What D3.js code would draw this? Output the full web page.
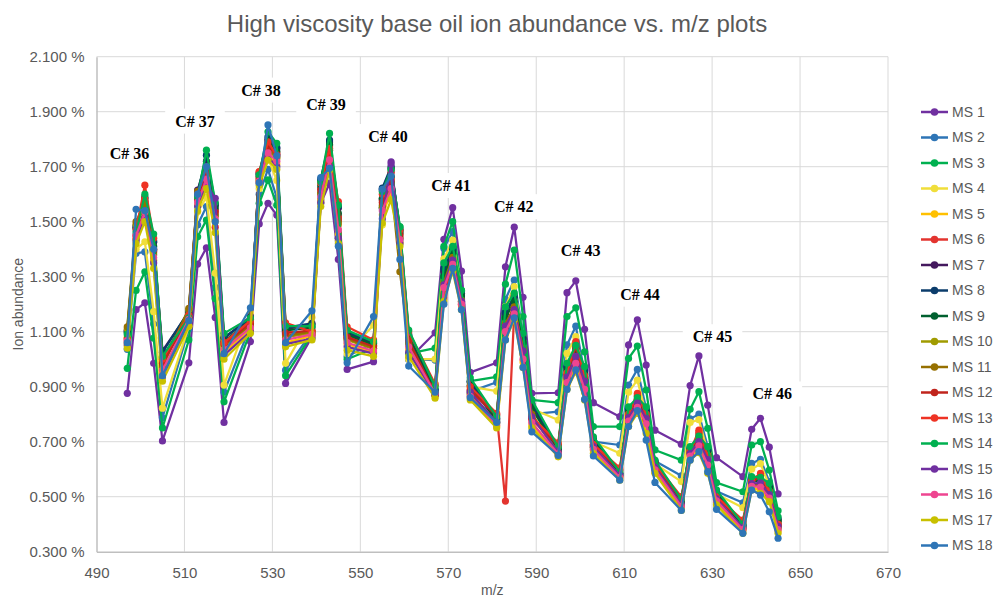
<!DOCTYPE html>
<html>
<head>
<meta charset="utf-8">
<script src="https://cdn.jsdelivr.net/npm/d3@7"></script>
<style>
  body { margin: 0; background: #fff; }
  svg { display: block; font-family: "Liberation Sans", Arial, sans-serif; }
</style>
</head>
<body>
<svg id="chart" width="994" height="600"></svg>
<script>
// m/z of every point (5 per carbon number, C36..C46)
var mzValues = [497, 499, 501, 503, 505, 511, 513, 515, 517, 519, 525, 527, 529, 531, 533,
    539, 541, 543, 545, 547, 553, 555, 557, 559, 561, 567, 569, 571, 573, 575,
    581, 583, 585, 587, 589, 595, 597, 599, 601, 603, 609, 611, 613, 615, 617,
    623, 625, 627, 629, 631, 637, 639, 641, 643, 645];

var xTicks = [490, 510, 530, 550, 570, 590, 610, 630, 650, 670];
var yTicks = [0.3, 0.5, 0.7, 0.9, 1.1, 1.3, 1.5, 1.7, 1.9, 2.1];

var carbonLabels = ['C# 36', 'C# 37', 'C# 38', 'C# 39', 'C# 40', 'C# 41', 'C# 42', 'C# 43', 'C# 44', 'C# 45', 'C# 46'];
var carbonLabelMz = [497.5, 512.4, 527.4, 542.2, 556.3, 570.6, 584.9, 600.1, 613.6, 630.1, 643.7];
var carbonLabelY = [1.748, 1.866, 1.979, 1.928, 1.81, 1.632, 1.555, 1.397, 1.237, 1.082, 0.874];

var seriesNames = ['MS 1', 'MS 2', 'MS 3', 'MS 4', 'MS 5', 'MS 6', 'MS 7', 'MS 8', 'MS 9',
    'MS 10', 'MS 11', 'MS 12', 'MS 13', 'MS 14', 'MS 15', 'MS 16', 'MS 17', 'MS 18'];
var colors = ['#7030A0', '#2E75B6', '#00B050', '#F0DE3A', '#FFC000', '#E3342F', '#44195E', '#0B3C6B', '#00602F',
    '#A09B00', '#967000', '#C0241C', '#EE3324', '#00B050', '#7030A0', '#EE4590', '#C8C000', '#2E75B6'];

// ion abundance (%) per series
var ms1 = [.876, 1.18, 1.205, .985, .703, .987, 1.346, 1.405, 1.152, .77, 1.064, 1.492, 1.567, 1.524, .912,
    1.082, 1.567, 1.64, 1.363, .963, .991, 1.55, 1.718, 1.44, 1.0, 1.096, 1.436, 1.551, 1.32, .952,
    .987, 1.336, 1.48, 1.225, .876, .878, 1.242, 1.285, 1.109, .842, .791, 1.052, 1.143, .979, .742,
    .691, .904, 1.012, .833, .642, .573, .745, .785, .68, .51];
var ms2 = [1.036, 1.385, 1.39, 1.128, .787, 1.11, 1.488, 1.555, 1.261, .88, 1.12, 1.60, 1.69, 1.587, .96,
    1.10, 1.60, 1.70, 1.43, 1.01, 1.06, 1.58, 1.68, 1.43, 1.0, .997, 1.403, 1.464, 1.221, .882,
    .916, 1.218, 1.288, 1.092, .80, .809, 1.052, 1.12, .949, .70, .688, .906, .963, .82, .63,
    .576, .783, .80, .682, .52, .478, .621, .636, .555, .40];
var ms3 = [.967, 1.25, 1.318, 1.077, .75, 1.07, 1.445, 1.506, 1.22, .845, 1.10, 1.567, 1.652, 1.56, .94,
    1.09, 1.58, 1.70, 1.44, 1.0, 1.04, 1.55, 1.69, 1.482, 1.02, 1.04, 1.41, 1.50, 1.25, .92,
    .936, 1.273, 1.397, 1.155, .852, .842, 1.155, 1.187, 1.027, .755, .755, 1.003, 1.048, .888, .67,
    .633, .818, .882, .749, .551, .518, .688, .70, .597, .449];
var ms4 = [1.05, 1.40, 1.427, 1.173, .822, 1.12, 1.536, 1.589, 1.313, .906, 1.169, 1.62, 1.73, 1.65, .985,
    1.152, 1.57, 1.72, 1.433, 1.02, 1.124, 1.488, 1.66, 1.42, 1.0, 1.0, 1.365, 1.433, 1.24, .90,
    .884, 1.191, 1.264, 1.08, .82, .779, 1.021, 1.082, .93, .70, .658, .88, .924, .80, .62,
    .555, .77, .78, .66, .51, .46, .60, .62, .54, .41];
var ms5 = [1.08, 1.435, 1.53, 1.36, .95, 1.14, 1.56, 1.645, 1.50, 1.025, 1.11, 1.645, 1.74, 1.71, 1.06,
    1.085, 1.58, 1.71, 1.455, 1.055, 1.025, 1.525, 1.61, 1.425, 1.035, .865, 1.25, 1.34, 1.195, .86,
    .755, 1.09, 1.16, .99, .76, .65, .905, .975, .88, .668, .566, .765, .815, .75, .59,
    .46, .642, .675, .605, .478, .375, .532, .525, .49, .375];
var ms6 = [1.06, 1.44, 1.55, 1.40, .99, 1.155, 1.585, 1.685, 1.54, 1.06, 1.135, 1.68, 1.78, 1.75, 1.10,
    1.09, 1.62, 1.775, 1.52, 1.085, 1.05, 1.58, 1.66, 1.455, 1.072, .905, 1.22, 1.35, 1.20, .89,
    .80, .484, 1.17, 1.02, .78, .69, .94, 1.055, .93, .685, .60, .79, .87, .79, .612,
    .495, .66, .735, .64, .495, .41, .55, .578, .51, .395];
var ms7 = [1.104, 1.485, 1.575, 1.425, 1.03, 1.17, 1.615, 1.72, 1.56, 1.075, 1.155, 1.672, 1.80, 1.765, 1.11,
    1.125, 1.65, 1.79, 1.55, 1.095, 1.058, 1.615, 1.695, 1.468, 1.085, .888, 1.32, 1.395, 1.24, .915,
    .782, 1.165, 1.225, 1.075, .835, .672, .97, 1.035, .955, .705, .583, .815, .85, .81, .625,
    .482, .675, .71, .665, .515, .395, .565, .56, .535, .415];
var ms8 = [1.10, 1.48, 1.59, 1.43, 1.025, 1.175, 1.605, 1.742, 1.565, 1.08, 1.145, 1.675, 1.809, 1.77, 1.115,
    1.13, 1.655, 1.797, 1.555, 1.10, 1.06, 1.622, 1.70, 1.472, 1.09, .89, 1.33, 1.40, 1.245, .92,
    .785, 1.17, 1.23, 1.08, .84, .675, .975, 1.04, .96, .71, .585, .82, .855, .815, .628,
    .485, .678, .715, .67, .518, .397, .568, .565, .54, .42];
var ms9 = [1.096, 1.475, 1.585, 1.41, 1.005, 1.165, 1.60, 1.69, 1.55, 1.065, 1.14, 1.665, 1.795, 1.755, 1.105,
    1.115, 1.63, 1.78, 1.53, 1.09, 1.052, 1.585, 1.665, 1.46, 1.08, .88, 1.30, 1.385, 1.23, .905,
    .775, 1.15, 1.21, 1.06, .82, .668, .96, 1.02, .945, .70, .58, .81, .845, .80, .62,
    .478, .67, .705, .655, .51, .39, .56, .555, .53, .41];
var ms10 = [1.11, 1.49, 1.56, 1.38, .97, 1.18, 1.60, 1.665, 1.52, 1.04, 1.12, 1.65, 1.76, 1.73, 1.08,
    1.095, 1.60, 1.735, 1.49, 1.07, 1.037, 1.55, 1.635, 1.44, 1.053, .868, 1.27, 1.365, 1.21, .87,
    .765, 1.12, 1.185, 1.035, .795, .658, .925, .995, .905, .678, .572, .78, .83, .775, .60,
    .468, .652, .69, .625, .488, .382, .542, .54, .50, .385];
var ms11 = [1.118, 1.50, 1.57, 1.39, .975, 1.185, 1.61, 1.67, 1.525, 1.05, 1.125, 1.655, 1.765, 1.735, 1.085,
    1.10, 1.605, 1.74, 1.50, 1.075, 1.04, 1.56, 1.64, 1.318, 1.06, .87, 1.28, 1.37, 1.215, .875,
    .77, 1.13, 1.19, 1.04, .80, .66, .93, 1.0, .91, .68, .575, .785, .835, .78, .605,
    .47, .655, .695, .63, .49, .385, .545, .545, .505, .39];
var ms12 = [1.075, 1.45, 1.54, 1.395, .985, 1.15, 1.58, 1.68, 1.535, 1.055, 1.13, 1.66, 1.775, 1.745, 1.095,
    1.105, 1.615, 1.76, 1.51, 1.08, 1.046, 1.57, 1.65, 1.45, 1.068, .875, 1.23, 1.355, 1.205, .885,
    .795, 1.11, 1.175, 1.025, .785, .685, .945, 1.045, .935, .688, .595, .795, .865, .795, .615,
    .49, .662, .728, .645, .50, .405, .555, .572, .515, .398];
var ms13 = [1.07, 1.47, 1.633, 1.44, 1.0, 1.16, 1.60, 1.70, 1.48, 1.06, 1.14, 1.682, 1.79, 1.74, 1.132,
    1.10, 1.64, 1.767, 1.573, 1.118, 1.07, 1.60, 1.68, 1.47, 1.10, .91, 1.24, 1.36, 1.21, .90,
    .803, 1.12, 1.18, 1.03, .79, .696, .95, 1.064, .94, .69, .605, .80, .876, .80, .62,
    .50, .665, .742, .65, .50, .415, .56, .585, .52, .40];
var ms14 = [1.09, 1.46, 1.60, 1.455, 1.01, 1.15, 1.59, 1.76, 1.57, 1.094, 1.15, 1.67, 1.827, 1.785, 1.12,
    1.12, 1.645, 1.821, 1.56, 1.105, 1.064, 1.61, 1.69, 1.48, 1.106, .90, 1.35, 1.41, 1.25, .932,
    .79, 1.19, 1.24, 1.094, .852, .68, .985, 1.05, .973, .718, .59, .827, .86, .827, .633,
    .49, .682, .72, .682, .525, .40, .573, .57, .549, .427];
var ms15 = [1.052, 1.43, 1.515, 1.35, .935, 1.13, 1.555, 1.635, 1.585, 1.015, 1.10, 1.64, 1.735, 1.70, 1.055,
    1.075, 1.57, 1.70, 1.44, 1.045, 1.02, 1.51, 1.71, 1.42, 1.025, .87, 1.27, 1.36, 1.21, .88,
    .77, 1.12, 1.18, 1.03, .79, .662, .935, 1.01, .92, .682, .578, .788, .84, .785, .607,
    .472, .657, .70, .635, .492, .387, .548, .55, .508, .392];
var ms16 = [1.068, 1.45, 1.535, 1.37, .96, 1.145, 1.57, 1.655, 1.51, 1.035, 1.115, 1.648, 1.75, 1.72, 1.07,
    1.09, 1.59, 1.725, 1.47, 1.06, 1.03, 1.54, 1.62, 1.435, 1.045, .875, 1.26, 1.345, 1.20, .865,
    .76, 1.10, 1.165, 1.0, .77, .655, .915, .985, .89, .672, .57, .775, .825, .765, .598,
    .465, .648, .685, .615, .485, .38, .538, .535, .495, .38];
var ms17 = [1.04, 1.42, 1.50, 1.33, .92, 1.12, 1.54, 1.62, 1.46, 1.00, 1.094, 1.633, 1.724, 1.69, 1.045,
    1.07, 1.555, 1.688, 1.42, 1.033, 1.01, 1.495, 1.58, 1.41, 1.01, .858, 1.21, 1.32, 1.18, .852,
    .75, 1.07, 1.143, .97, .75, .645, .89, .954, .852, .658, .56, .755, .803, .73, .585,
    .45, .633, .66, .585, .47, .367, .524, .512, .482, .367];
var ms18 = [1.06, 1.545, 1.54, 1.40, .94, 1.14, 1.60, 1.70, 1.50, 1.02, 1.187, 1.642, 1.852, 1.74, 1.06,
    1.176, 1.66, 1.694, 1.411, .987, 1.155, 1.618, 1.666, 1.363, .975, .88, 1.20, 1.33, 1.18, .86,
    .77, 1.07, 1.15, .97, .736, .65, .89, .961, .854, .648, .56, .755, .813, .706, .552,
    .45, .633, .664, .591, .454, .367, .524, .506, .445, .349];

var allSeries = [ms1, ms2, ms3, ms4, ms5, ms6, ms7, ms8, ms9, ms10, ms11, ms12, ms13, ms14, ms15, ms16, ms17, ms18];

var svg = d3.select('#chart');
var width = 994, height = 600;
var margin = { left: 96.5, right: 106, top: 56.7, bottom: 48.3 };
var innerW = width - margin.left - margin.right;
var innerH = height - margin.top - margin.bottom;
var textGray = '#595959';

var xScale = d3.scaleLinear().domain([490, 670]).range([margin.left, margin.left + innerW]);
var yScale = d3.scaleLinear().domain([0.3, 2.1]).range([margin.top + innerH, margin.top]);

// title
svg.append('text')
    .attr('x', width / 2)
    .attr('y', 24)
    .attr('dy', '0.35em')
    .attr('text-anchor', 'middle')
    .style('font-size', '24px')
    .style('fill', textGray)
    .text('High viscosity base oil ion abundance vs. m/z plots');

// gridlines
var grid = svg.append('g');
grid.selectAll('.hgrid')
    .data(yTicks.slice(1))
    .enter().append('line')
    .attr('x1', margin.left).attr('x2', margin.left + innerW)
    .attr('y1', d => yScale(d)).attr('y2', d => yScale(d))
    .style('stroke', '#D9D9D9').style('stroke-width', 1);
grid.selectAll('.vgrid')
    .data(xTicks.slice(1))
    .enter().append('line')
    .attr('x1', d => xScale(d)).attr('x2', d => xScale(d))
    .attr('y1', margin.top).attr('y2', margin.top + innerH)
    .style('stroke', '#D9D9D9').style('stroke-width', 1);

// axes
var yAxis = svg.append('g')
    .attr('transform', `translate(${margin.left},0)`)
    .call(d3.axisLeft(yScale).tickValues(yTicks).tickSize(0).tickPadding(12)
        .tickFormat(d => d3.format('.3f')(d) + ' %'));
yAxis.select('.domain').style('stroke', '#BFBFBF').style('stroke-width', 1.5);
yAxis.selectAll('.tick text')
    .style('font-size', '15px')
    .style('fill', textGray)
    .style('font-family', '"Liberation Sans", Arial, sans-serif');

var xAxis = svg.append('g')
    .attr('transform', `translate(0,${margin.top + innerH})`)
    .call(d3.axisBottom(xScale).tickValues(xTicks).tickSize(0).tickPadding(16));
xAxis.select('.domain').style('stroke', '#BFBFBF').style('stroke-width', 1.5);
xAxis.selectAll('.tick text')
    .style('font-size', '15px')
    .style('fill', textGray)
    .style('font-family', '"Liberation Sans", Arial, sans-serif');

// axis titles
svg.append('text')
    .attr('x', xScale(580))
    .attr('y', 590)
    .attr('dy', '0.35em')
    .attr('text-anchor', 'middle')
    .style('font-size', '14px')
    .style('fill', textGray)
    .text('m/z');
svg.append('text')
    .attr('transform', `translate(18, ${yScale(1.2)}) rotate(-90)`)
    .attr('dy', '0.35em')
    .attr('text-anchor', 'middle')
    .style('font-size', '14px')
    .style('fill', textGray)
    .text('Ion abundance');

// series
var line = d3.line()
    .x((d, i) => xScale(mzValues[i]))
    .y(d => yScale(d));

for (var i = 0; i < allSeries.length; i++) {
    svg.append('path')
        .datum(allSeries[i])
        .style('fill', 'none')
        .style('stroke', colors[i])
        .style('stroke-width', 2.25)
        .style('stroke-linejoin', 'round')
        .attr('d', line);
    svg.append('g').selectAll('circle')
        .data(allSeries[i])
        .enter().append('circle')
        .attr('cx', (d, j) => xScale(mzValues[j]))
        .attr('cy', d => yScale(d))
        .attr('r', 3.6)
        .style('fill', colors[i]);
}

// carbon number labels
var labels = svg.append('g');
for (var k = 0; k < carbonLabels.length; k++) {
    var lx = xScale(carbonLabelMz[k]);
    var ly = yScale(carbonLabelY[k]);
    var t = labels.append('text')
        .attr('x', lx)
        .attr('y', ly)
        .attr('dy', '0.35em')
        .attr('text-anchor', 'middle')
        .style('font-family', '"Liberation Serif", "Times New Roman", serif')
        .style('font-weight', 'bold')
        .style('font-size', '16px')
        .style('fill', '#000')
        .text(carbonLabels[k]);
    var bb = t.node().getBBox();
    labels.insert('rect', 'text')
        .attr('x', bb.x - 10).attr('y', bb.y - 4)
        .attr('width', bb.width + 20).attr('height', bb.height + 8)
        .style('fill', '#fff');
}

// legend
var legend = svg.append('g');
for (var s = 0; s < seriesNames.length; s++) {
    var gy = 112 + s * 25.5;
    legend.append('line')
        .attr('x1', 921).attr('x2', 948)
        .attr('y1', gy).attr('y2', gy)
        .style('stroke', colors[s]).style('stroke-width', 2.5);
    legend.append('circle')
        .attr('cx', 934.5).attr('cy', gy).attr('r', 3.8)
        .style('fill', colors[s]);
    legend.append('text')
        .attr('x', 952).attr('y', gy)
        .attr('dy', '0.35em')
        .style('font-size', '14px')
        .style('fill', textGray)
        .text(seriesNames[s]);
}
</script>
</body>
</html>
